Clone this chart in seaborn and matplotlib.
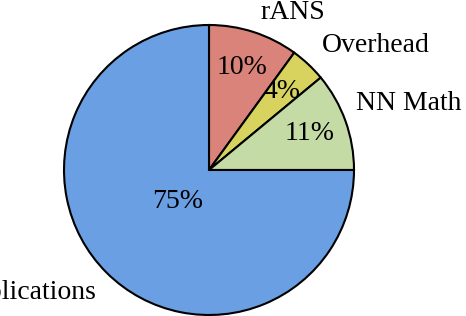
import matplotlib
matplotlib.use('Agg')
import matplotlib.pyplot as plt
import seaborn as sns

# time share of each component
labels = ['rANS', 'Overhead', 'NN Math', 'Applications']
shares = [10, 4, 11, 75]
colors = ['#D9837A', '#D8D35F', '#C5DBA6', '#6A9FE4']

sns.set_theme(style='white')
plt.rcParams['font.family'] = ['Liberation Serif', 'DejaVu Serif']

fig = plt.figure(figsize=(4.66, 3.16), dpi=100)
ax = fig.add_axes([0, 0, 1, 1])

wedges, texts, autotexts = ax.pie(
    shares, labels=labels, colors=sns.color_palette(colors),
    startangle=90, counterclock=False,
    autopct='%d%%', pctdistance=0.74, labeldistance=1.15,
    wedgeprops=dict(edgecolor='black', linewidth=1.5),
    textprops=dict(fontsize=20, color='black'))

# small nudges so the outer labels sit like the original
nudge = [(0.0, -0.01), (-0.01, 0.02), (-0.07, 0.07), (0.04, -0.03)]
for t, (dx, dy) in zip(texts, nudge):
    x, y = t.get_position()
    t.set_position((x + dx, y + dy))

# big slice label sits closer to the centre
x, y = autotexts[3].get_position()
autotexts[3].set_position((x * 0.42, y * 0.42))

# pie centre at (209, 170) px, radius 145 px
ax.set_xlim(-209 / 145, (466 - 209) / 145)
ax.set_ylim(-146 / 145, 170 / 145)
ax.axis('off')

fig.savefig('out.png', dpi=100)
